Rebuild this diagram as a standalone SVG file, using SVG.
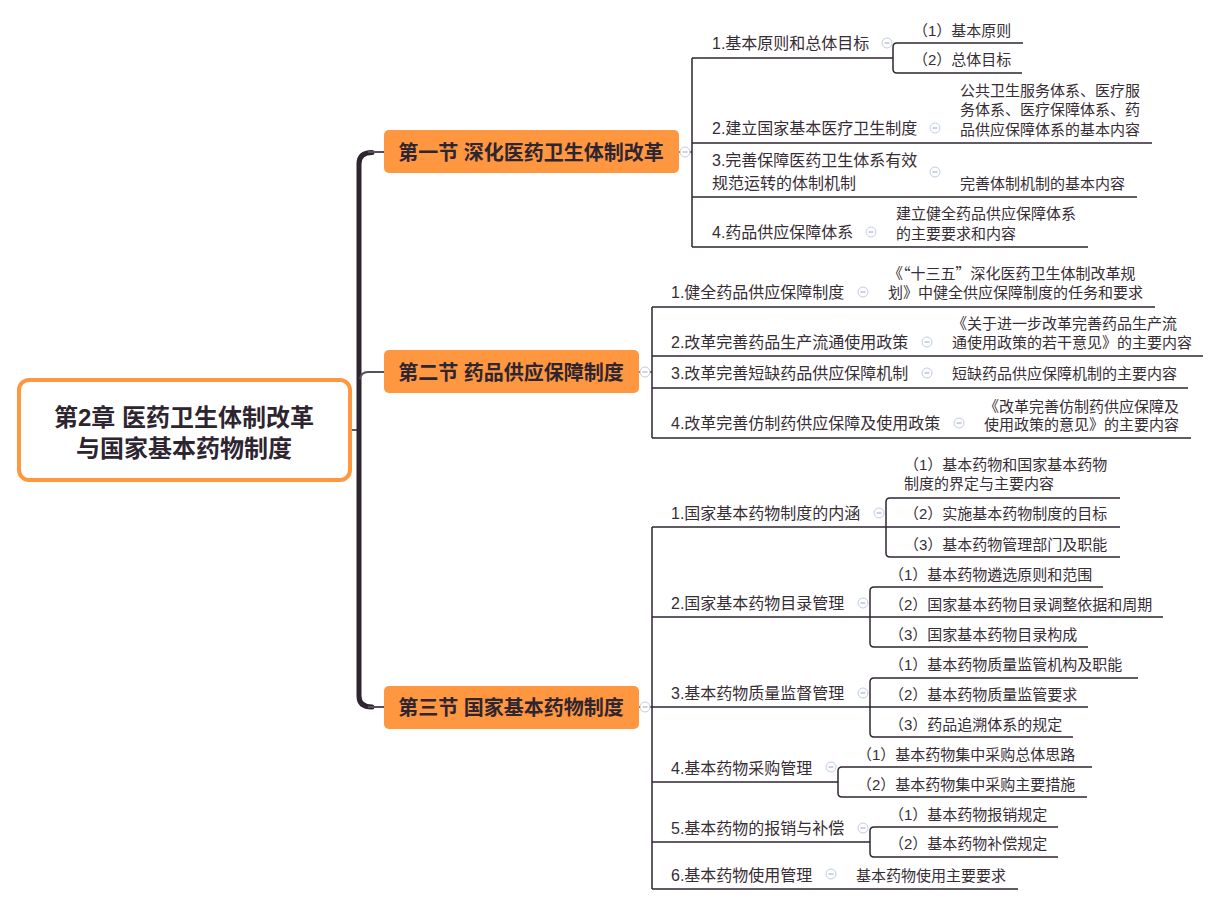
<svg xmlns="http://www.w3.org/2000/svg" width="1220" height="905" viewBox="0 0 1220 905">
<defs>
<style>
text{font-family:"Liberation Sans","Noto Sans CJK SC",sans-serif;fill:#372d35}
.cjk{font-family:"Noto Sans CJK SC",sans-serif}
.root{font-size:24px;font-weight:bold;text-anchor:middle;fill:#2d2530}
.sec{font-size:20px;font-weight:bold;text-anchor:middle;fill:#2d2530}
.l2{font-size:16px}
.l3{font-size:15px}
.ln{fill:none;stroke:#2f2631;stroke-width:1.5}
.trunk{fill:none;stroke:#2f2531;stroke-width:5;stroke-linecap:round}
.thin{fill:none;stroke:#57505a;stroke-width:2}
.secbox{fill:#FF9640}
.ic circle{fill:#fff;stroke:#c3cbe6;stroke-width:1}
.ic line{stroke:#9aa3c0;stroke-width:1}
</style>
<g id="icon" class="ic"><circle cx="0" cy="0" r="5"/><line x1="-2.5" y1="0" x2="2.5" y2="0"/></g>
</defs>
<rect width="1220" height="905" fill="#fff"/>

<g id="connectors">
<path class="trunk" d="M372,152.5 Q359,152.5 359,164 V696 Q359,707 372,707"/>
<path class="thin" d="M368,152 H384 M368,707 H384 M384,372 H368 Q361,372 360,379"/>
<path class="ln" d="M352,430 H359"/>
<path class="ln" d="M679,152 H692 M639,372 H652 M639,707 H652"/>
<path class="ln" d="M692,58 V247 M692,58 H893 M692,143 H1152 M692,197 H1137 M692,247 H1088"/>
<path class="ln" d="M1023,43 H897 Q893,43 893,47 V69 Q893,73 897,73 H1022"/>
<path class="ln" d="M652,307 V438 M652,307 H1155 M652,356 H1203 M652,388 H1188 M652,438 H1191"/>
<path class="ln" d="M652,527 V889 M652,527 H886 M652,617 H870 M652,707 H870 M652,782 H838 M652,842 H870 M652,889 H1018"/>
<path class="ln" d="M1120,498 H890 Q886,498 886,502 V553 Q886,557 890,557 H1120 M886,527 H1120"/>
<path class="ln" d="M1103,587 H874 Q870,587 870,591 V643 Q870,647 874,647 H1088 M870,617 H1163"/>
<path class="ln" d="M1138,678 H874 Q870,678 870,682 V733 Q870,737 874,737 H1073 M870,707 H1088"/>
<path class="ln" d="M1092,767 H842 Q838,767 838,771 V793 Q838,797 842,797 H1087"/>
<path class="ln" d="M1058,827 H874 Q870,827 870,831 V853 Q870,857 874,857 H1058"/>
</g>

<g id="root">
<rect x="19" y="380" width="331" height="100" rx="10" fill="#fff" stroke="#FF9640" stroke-width="4"/>
<text class="root" x="184" y="426">第2章 医药卫生体制改革</text>
<text class="root" x="184" y="457">与国家基本药物制度</text>
</g>

<g id="sec1">
<rect class="secbox" x="384" y="130" width="295" height="43" rx="5"/>
<text class="sec" x="531" y="159.5">第一节 深化医药卫生体制改革</text>
<use href="#icon" x="685" y="152"/>
</g>
<g id="sec2">
<rect class="secbox" x="384" y="350" width="255" height="43" rx="5"/>
<text class="sec" x="511" y="379.5">第二节 药品供应保障制度</text>
<use href="#icon" x="645" y="372"/>
</g>
<g id="sec3">
<rect class="secbox" x="384" y="686" width="255" height="43" rx="5"/>
<text class="sec" x="511" y="714.5">第三节 国家基本药物制度</text>
<use href="#icon" x="645" y="707"/>
</g>

<g id="s1-1">
<text class="l2" x="712" y="49">1.基本原则和总体目标</text>
<use href="#icon" x="887" y="43"/>
</g>
<g id="s1-1-1"><text class="l3" x="913" y="35.5">（1）基本原则</text></g>
<g id="s1-1-2"><text class="l3" x="913" y="65">（2）总体目标</text></g>
<g id="s1-2">
<text class="l2" x="712" y="134">2.建立国家基本医疗卫生制度</text>
<use href="#icon" x="935" y="128"/>
</g>
<g id="s1-2-1">
<text class="l3" x="960" y="95.5">公共卫生服务体系、医疗服</text>
<text class="l3" x="960" y="114.5">务体系、医疗保障体系、药</text>
<text class="l3" x="960" y="134.5">品供应保障体系的基本内容</text>
</g>
<g id="s1-3">
<text class="l2" x="712" y="166">3.完善保障医药卫生体系有效</text>
<text class="l2" x="712" y="189">规范运转的体制机制</text>
<use href="#icon" x="935" y="172"/>
</g>
<g id="s1-3-1"><text class="l3" x="960" y="188.5">完善体制机制的基本内容</text></g>
<g id="s1-4">
<text class="l2" x="712" y="238">4.药品供应保障体系</text>
<use href="#icon" x="871" y="232"/>
</g>
<g id="s1-4-1">
<text class="l3" x="896" y="218.5">建立健全药品供应保障体系</text>
<text class="l3" x="896" y="238.5">的主要要求和内容</text>
</g>

<g id="s2-1">
<text class="l2" x="671" y="298">1.健全药品供应保障制度</text>
<use href="#icon" x="863" y="292"/>
</g>
<g id="s2-1-1">
<text class="l3 cjk" x="888" y="278.5">《“十三五”深化医药卫生体制改革规</text>
<text class="l3" x="888" y="297.5">划》中健全供应保障制度的任务和要求</text>
</g>
<g id="s2-2">
<text class="l2" x="671" y="348">2.改革完善药品生产流通使用政策</text>
<use href="#icon" x="927" y="342"/>
</g>
<g id="s2-2-1">
<text class="l3" x="952" y="328.5">《关于进一步改革完善药品生产流</text>
<text class="l3" x="952" y="347.5">通使用政策的若干意见》的主要内容</text>
</g>
<g id="s2-3">
<text class="l2" x="671" y="379">3.改革完善短缺药品供应保障机制</text>
<use href="#icon" x="927" y="373"/>
</g>
<g id="s2-3-1"><text class="l3" x="952" y="378.5">短缺药品供应保障机制的主要内容</text></g>
<g id="s2-4">
<text class="l2" x="671" y="429">4.改革完善仿制药供应保障及使用政策</text>
<use href="#icon" x="959" y="423"/>
</g>
<g id="s2-4-1">
<text class="l3" x="984" y="411.5">《改革完善仿制药供应保障及</text>
<text class="l3" x="984" y="429.5">使用政策的意见》的主要内容</text>
</g>

<g id="s3-1">
<text class="l2" x="671" y="519">1.国家基本药物制度的内涵</text>
<use href="#icon" x="879" y="513"/>
</g>
<g id="s3-1-1">
<text class="l3" x="904" y="469.5">（1）基本药物和国家基本药物</text>
<text class="l3" x="904" y="488.5">制度的界定与主要内容</text>
</g>
<g id="s3-1-2"><text class="l3" x="904" y="518.5">（2）实施基本药物制度的目标</text></g>
<g id="s3-1-3"><text class="l3" x="904" y="549.5">（3）基本药物管理部门及职能</text></g>

<g id="s3-2">
<text class="l2" x="671" y="609">2.国家基本药物目录管理</text>
<use href="#icon" x="863" y="603"/>
</g>
<g id="s3-2-1"><text class="l3" x="889" y="579.5">（1）基本药物遴选原则和范围</text></g>
<g id="s3-2-2"><text class="l3" x="889" y="609.5">（2）国家基本药物目录调整依据和周期</text></g>
<g id="s3-2-3"><text class="l3" x="889" y="639.5">（3）国家基本药物目录构成</text></g>

<g id="s3-3">
<text class="l2" x="671" y="699">3.基本药物质量监督管理</text>
<use href="#icon" x="863" y="693"/>
</g>
<g id="s3-3-1"><text class="l3" x="889" y="669.5">（1）基本药物质量监管机构及职能</text></g>
<g id="s3-3-2"><text class="l3" x="889" y="699.5">（2）基本药物质量监管要求</text></g>
<g id="s3-3-3"><text class="l3" x="889" y="729.5">（3）药品追溯体系的规定</text></g>

<g id="s3-4">
<text class="l2" x="671" y="774">4.基本药物采购管理</text>
<use href="#icon" x="831" y="767"/>
</g>
<g id="s3-4-1"><text class="l3" x="857" y="759.5">（1）基本药物集中采购总体思路</text></g>
<g id="s3-4-2"><text class="l3" x="857" y="789.5">（2）基本药物集中采购主要措施</text></g>

<g id="s3-5">
<text class="l2" x="671" y="834">5.基本药物的报销与补偿</text>
<use href="#icon" x="863" y="828"/>
</g>
<g id="s3-5-1"><text class="l3" x="889" y="819.5">（1）基本药物报销规定</text></g>
<g id="s3-5-2"><text class="l3" x="889" y="848.5">（2）基本药物补偿规定</text></g>

<g id="s3-6">
<text class="l2" x="671" y="881">6.基本药物使用管理</text>
<use href="#icon" x="831" y="874"/>
</g>
<g id="s3-6-1"><text class="l3" x="856" y="880.5">基本药物使用主要要求</text></g>
</svg>
